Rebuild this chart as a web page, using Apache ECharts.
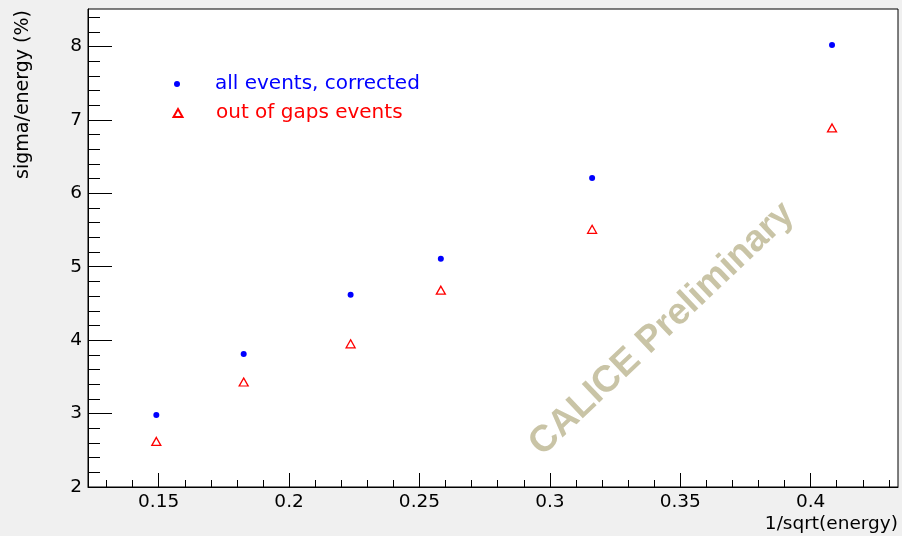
<!DOCTYPE html>
<html>
<head>
<meta charset="utf-8">
<script src="https://cdn.jsdelivr.net/npm/echarts@6/dist/echarts.min.js"></script>
<style>
html,body{margin:0;padding:0;background:#f0f0f0;}
#chart{width:902px;height:536px;}
</style>
</head>
<body>
<div id="chart"></div>
<script>
// ---- data ----
const invSqrtEnergy = [0.1491, 0.1826, 0.2236, 0.2582, 0.3162, 0.4082];
const allEventsCorrected = [2.98, 3.81, 4.62, 5.11, 6.21, 8.02];
const outOfGapsEvents = [2.62, 3.43, 3.95, 4.68, 5.51, 6.89];
const xMajorTicks = [0.15, 0.2, 0.25, 0.3, 0.35, 0.4];
const xMinorTicks = [0.13, 0.14, 0.16, 0.17, 0.18, 0.19, 0.21, 0.22, 0.23, 0.24, 0.26, 0.27, 0.28, 0.29, 0.31, 0.32, 0.33, 0.34, 0.36, 0.37, 0.38, 0.39, 0.41, 0.42, 0.43];
const yMajorTicks = [2, 3, 4, 5, 6, 7, 8];
const yMinorTicks = [2.2, 2.4, 2.6, 2.8, 3.2, 3.4, 3.6, 3.8, 4.2, 4.4, 4.6, 4.8, 5.2, 5.4, 5.6, 5.8, 6.2, 6.4, 6.6, 6.8, 7.2, 7.4, 7.6, 7.8, 8.2, 8.4];
const seriesNames = ['all events, corrected', 'out of gaps events'];
const xTitle = '1/sqrt(energy)';
const yTitle = 'sigma/energy (%)';
const watermark = 'CALICE Preliminary';

const X_MIN = 0.1229, X_MAX = 0.4335, Y_MIN = 2, Y_MAX = 8.51;
const FONT = 'DejaVu Sans';
const labelStyle = {fontFamily: FONT, fontSize: 18.5, color: '#000'};

const chart = echarts.init(document.getElementById('chart'), null, {renderer: 'canvas'});
chart.setOption({
  backgroundColor: '#f0f0f0',
  animation: false,
  grid: {left: 88, right: 4, top: 9, bottom: 49, show: true, backgroundColor: '#fff', borderColor: '#000', borderWidth: 1},
  legend: [
    {data: [seriesNames[0]], left: 174, top: 74, padding: 0, itemWidth: 6, itemHeight: 6,
     textStyle: {fontFamily: FONT, fontSize: 20, color: '#0000ff', padding: [0, 0, 0, 30]}, selectedMode: false},
    {data: [seriesNames[1]], left: 172.5, top: 103, padding: 0, itemWidth: 9, itemHeight: 8,
     textStyle: {fontFamily: FONT, fontSize: 20, color: '#ff0000', padding: [0, 0, 0, 28.5]}, selectedMode: false}
  ],
  xAxis: [
    {type: 'value', min: X_MIN, max: X_MAX, position: 'bottom',
     axisLine: {show: true, onZero: false, lineStyle: {color: '#000', width: 1}},
     axisTick: {show: true, inside: true, length: 14, customValues: xMajorTicks, lineStyle: {color: '#000', width: 1}},
     axisLabel: {show: true, customValues: xMajorTicks, margin: 6, ...labelStyle},
     splitLine: {show: false},
     name: xTitle, nameLocation: 'end', nameGap: 0,
     nameTextStyle: {fontFamily: FONT, fontSize: 18.5, color: '#000', align: 'right', verticalAlign: 'top', padding: [28, 0, 0, 0]}},
    {type: 'value', min: X_MIN, max: X_MAX, position: 'bottom',
     axisLine: {show: false},
     axisTick: {show: true, inside: true, length: 7, customValues: xMinorTicks, lineStyle: {color: '#000', width: 1}},
     axisLabel: {show: false, customValues: xMinorTicks},
     splitLine: {show: false}}
  ],
  yAxis: [
    {type: 'value', min: Y_MIN, max: Y_MAX, position: 'left',
     axisLine: {show: true, onZero: false, lineStyle: {color: '#000', width: 1}},
     axisTick: {show: true, inside: true, length: 24, customValues: yMajorTicks, lineStyle: {color: '#000', width: 1}},
     axisLabel: {show: true, customValues: yMajorTicks, margin: 6, ...labelStyle},
     splitLine: {show: false},
     name: yTitle, nameLocation: 'end', nameGap: -1, nameRotate: 90,
     nameTextStyle: {fontFamily: FONT, fontSize: 19, color: '#000', align: 'right', verticalAlign: 'bottom', padding: [0, 0, 55, 0]}},
    {type: 'value', min: Y_MIN, max: Y_MAX, position: 'left',
     axisLine: {show: false},
     axisTick: {show: true, inside: true, length: 12, customValues: yMinorTicks, lineStyle: {color: '#000', width: 1}},
     axisLabel: {show: false, customValues: yMinorTicks},
     splitLine: {show: false}}
  ],
  series: [
    {name: seriesNames[0], type: 'scatter', xAxisIndex: 0, yAxisIndex: 0,
     symbol: 'circle', symbolSize: 6,
     itemStyle: {color: '#0000ff', opacity: 1},
     data: invSqrtEnergy.map((x, i) => [x, allEventsCorrected[i]]), z: 5},
    {name: seriesNames[1], type: 'scatter', xAxisIndex: 0, yAxisIndex: 0,
     symbol: 'triangle', symbolSize: [9, 8],
     itemStyle: {color: '#ffffff', borderColor: '#ff0000', borderWidth: 1.3, opacity: 1},
     data: invSqrtEnergy.map((x, i) => [x, outOfGapsEvents[i]]), z: 5}
  ],
  graphic: [
    {type: 'text', x: 662, y: 329, rotation: 43.5 * Math.PI / 180, z: 1,
     style: {text: watermark, fontFamily: 'Liberation Sans', fontWeight: 'bold', fontSize: 37, fill: '#c9c4a6', align: 'center', verticalAlign: 'middle'}}
  ]
});
</script>
</body>
</html>
